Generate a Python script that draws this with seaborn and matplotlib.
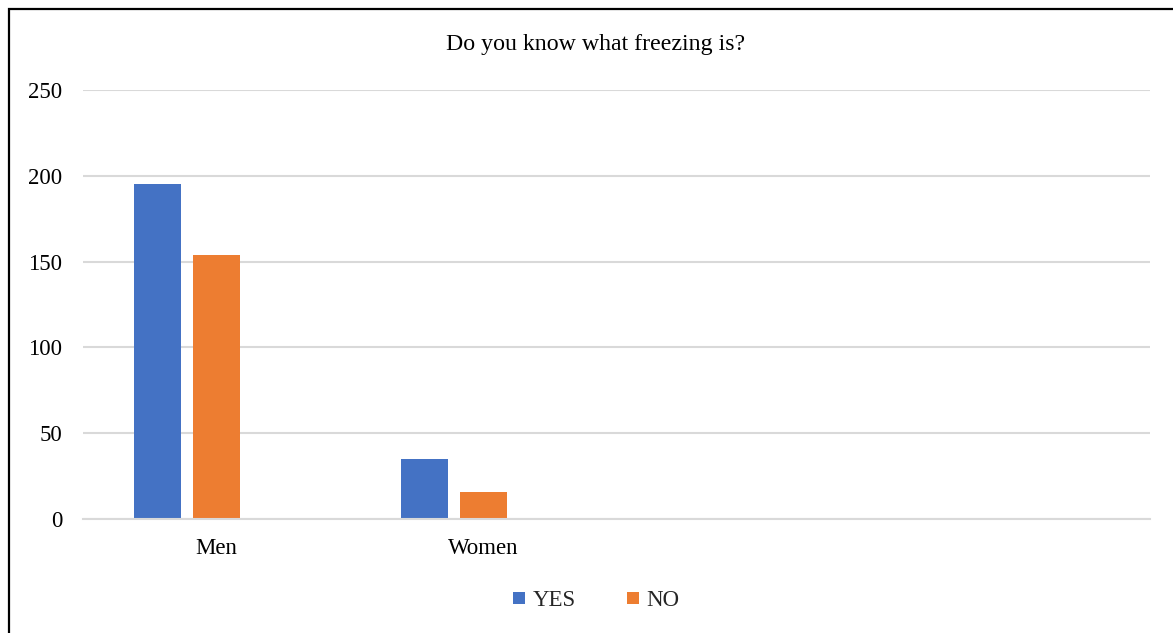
import pandas as pd
import matplotlib
matplotlib.use("Agg")
import matplotlib.pyplot as plt
from matplotlib.lines import Line2D
from matplotlib.patches import Rectangle
import seaborn as sns

# Data
groups = ["Men", "Women"]
yes_counts = [195, 35]
no_counts = [154, 16]
series = ["YES", "NO", "Series3"]  # third series is empty in the original chart
colors = {"YES": "#4472C4", "NO": "#ED7D31", "Series3": "#A5A5A5"}

data = pd.DataFrame({
    "group": groups * 2,
    "answer": ["YES"] * len(groups) + ["NO"] * len(groups),
    "count": yes_counts + no_counts,
})

sns.set_theme(style="white")
plt.rcParams["font.family"] = ["Liberation Serif", "DejaVu Serif"]

fig = plt.figure(figsize=(11.73, 6.33), dpi=100)
ax = fig.add_axes([0.0708, 0.1801, 0.9097, 0.6777])

sns.barplot(data=data, x="group", y="count", hue="answer", hue_order=series,
            order=groups, palette=colors, saturation=1, width=0.663, gap=0.2,
            linewidth=0, errorbar=None, legend=False, ax=ax)

ax.set_xlim(-0.5, 3.5)
ax.set_ylim(0, 250)
ax.set_yticks(range(0, 251, 50))
ax.yaxis.grid(True, color="#d9d9d9", linewidth=1.5)
ax.set_axisbelow(True)
for side in ["top", "right", "left"]:
    ax.spines[side].set_visible(False)
ax.spines["bottom"].set_color("#d9d9d9")
ax.spines["bottom"].set_linewidth(1.5)
ax.tick_params(axis="y", length=0, pad=15, labelsize=16.5, labelcolor="black")
ax.tick_params(axis="x", length=0, pad=14, labelsize=16.5, labelcolor="black")
ax.set_xlabel("")
ax.set_ylabel("")

fig.text(0.5075, 0.930, "Do you know what freezing is?", ha="center", va="center",
         fontsize=17.2, color="black")

handles = [Line2D([], [], marker="s", linestyle="", markersize=9,
                  markerfacecolor=colors[s], markeredgewidth=0) for s in series[:2]]
fig.legend(handles, series[:2], loc="center", bbox_to_anchor=(0.508, 0.052),
           ncol=2, frameon=False, fontsize=16.5, handlelength=0.6,
           handletextpad=0.3, columnspacing=2.2)

# outer chart border (only left/top edges are inside the image)
fig.patches.append(Rectangle((9 / 1173, -0.1), 1.2, 1.1 - 9 / 633, transform=fig.transFigure,
                             fill=False, edgecolor="black", linewidth=1.6))

fig.savefig("out.png", dpi=100)
